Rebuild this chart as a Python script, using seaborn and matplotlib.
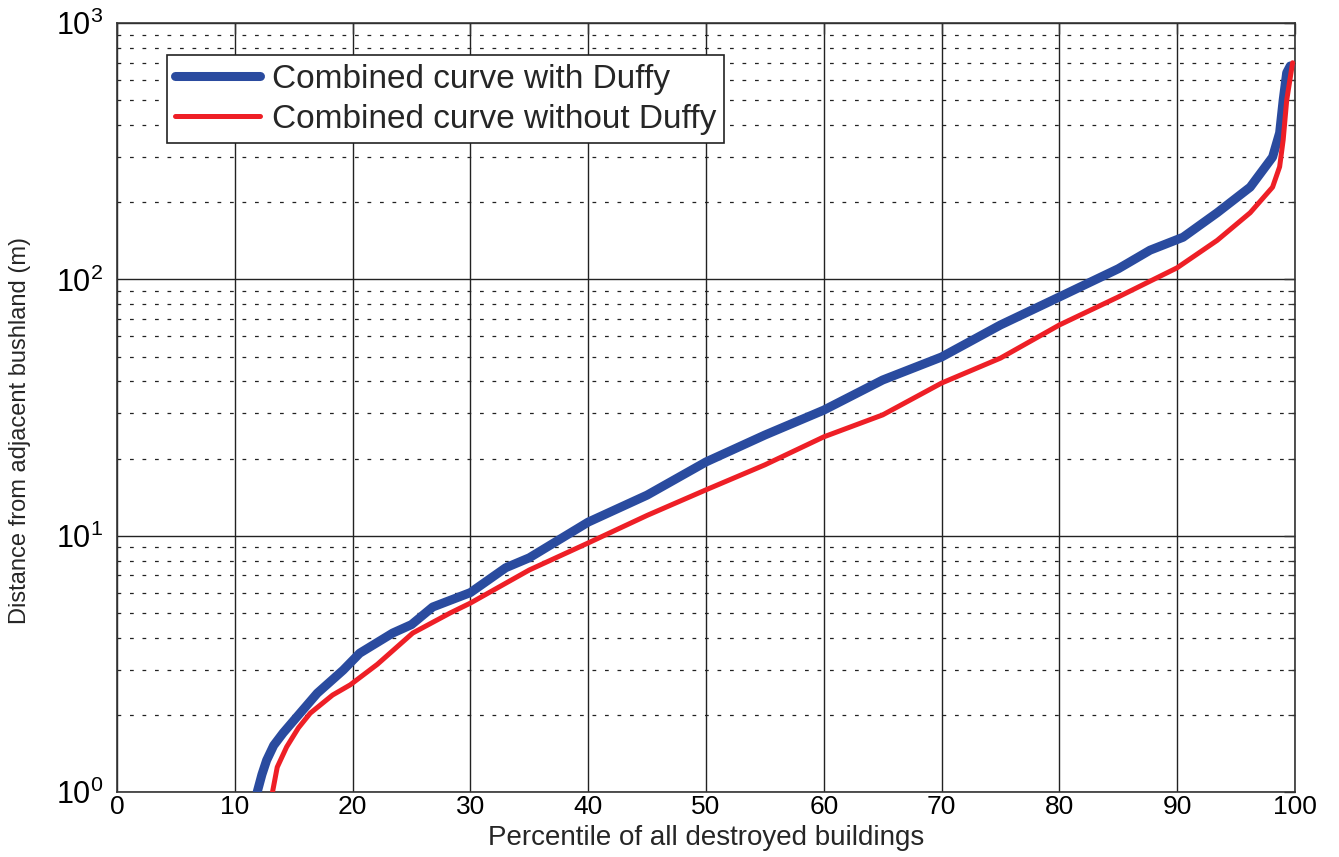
import numpy as np
import pandas as pd
import matplotlib
matplotlib.use("Agg")
import matplotlib.pyplot as plt
import seaborn as sns
from matplotlib.ticker import LogLocator, MultipleLocator, NullFormatter

# values
pct_with = [11.9, 12.3, 12.7, 13.3, 14.1, 15.0, 17.0, 19.2, 20.6, 23.4, 25.0,
            26.8, 30.0, 33.0, 35.0, 40.0, 45.0, 50.0, 55.0, 60.0, 65.0, 70.0,
            75.0, 80.0, 85.0, 87.7, 90.5, 93.4, 96.2, 98.1, 98.7, 99.0, 99.3,
            99.6]
dist_with = [1.0, 1.17, 1.33, 1.52, 1.7, 1.9, 2.43, 2.99, 3.48, 4.17, 4.5,
             5.27, 6.0, 7.5, 8.2, 11.3, 14.4, 19.4, 24.7, 30.9, 40.5, 49.8,
             66.4, 85.4, 110, 130, 146, 182, 229, 300, 373, 500, 640, 680]

pct_without = [13.2, 13.6, 14.4, 15.4, 16.4, 18.3, 19.8, 22.1, 25.1, 28.3,
               30.0, 35.0, 40.0, 45.0, 50.0, 55.0, 60.0, 65.0, 70.0, 75.0,
               80.0, 85.0, 90.0, 93.4, 96.2, 98.1, 98.7, 99.0, 99.3, 99.8]
dist_without = [1.0, 1.25, 1.5, 1.78, 2.03, 2.39, 2.62, 3.15, 4.17, 5.0,
                5.46, 7.35, 9.37, 12.0, 15.1, 18.9, 24.3, 29.6, 39.4, 49.3,
                66.4, 85.4, 111, 142, 182, 229, 275, 350, 500, 700]

label_with = "Combined curve with Duffy"
label_without = "Combined curve without Duffy"
x_label = "Percentile of all destroyed buildings"
y_label = "Distance from adjacent bushland (m)"

sns.set_theme(style="white")
plt.rcParams["font.family"] = ["Liberation Sans", "DejaVu Sans"]

fig = plt.figure(figsize=(13.39, 8.57), dpi=100)
ax = fig.add_axes([0.0874, 0.0758, 0.8797, 0.8973])

sns.lineplot(x=pct_with, y=dist_with, sort=False, color="#2a4b9f",
             linewidth=6.5, label=label_with, ax=ax, zorder=3)
sns.lineplot(x=pct_without, y=dist_without, sort=False, color="#ee1f26",
             linewidth=3.6, label=label_without, ax=ax, zorder=4)

ax.set_yscale("log")
ax.set_xlim(0, 100)
ax.set_ylim(1, 1000)
ax.xaxis.set_major_locator(MultipleLocator(10))
ax.yaxis.set_major_locator(LogLocator(base=10))
ax.yaxis.set_minor_locator(LogLocator(base=10, subs=np.arange(2, 10)))
ax.yaxis.set_minor_formatter(NullFormatter())

ax.grid(True, which="major", axis="both", color="#222222", linewidth=1.0,
        linestyle="-")
ax.grid(True, which="minor", axis="y", color="#222222", linewidth=0.9,
        linestyle=(0, (3, 7)))
ax.set_axisbelow(True)

for s in ax.spines.values():
    s.set_color("#333333")
    s.set_linewidth(1.2)

ax.tick_params(which="both", direction="in", top=True, right=True,
               colors="#333333", labelcolor="black")
ax.tick_params(which="major", length=8, width=1.0)
ax.tick_params(axis="x", which="major", labelsize=19, pad=2)
ax.tick_params(axis="y", which="major", labelsize=22, pad=10)
ax.tick_params(which="minor", length=5, width=0.9)

ax.set_xlabel(x_label, fontsize=20)
ax.xaxis.set_label_coords(0.5, -0.0425)
ax.set_ylabel(y_label, fontsize=17)
ax.yaxis.set_label_coords(-0.073, 0.47)

leg = ax.legend(loc="upper left", bbox_to_anchor=(0.042, 0.958),
                borderaxespad=0, fontsize=24, frameon=True, fancybox=False,
                framealpha=1, edgecolor="#222222", handlelength=2.55,
                handletextpad=0.35, labelspacing=0.27, borderpad=0.25)
leg.get_frame().set_linewidth(1.2)

fig.savefig("out.png", dpi=100)
